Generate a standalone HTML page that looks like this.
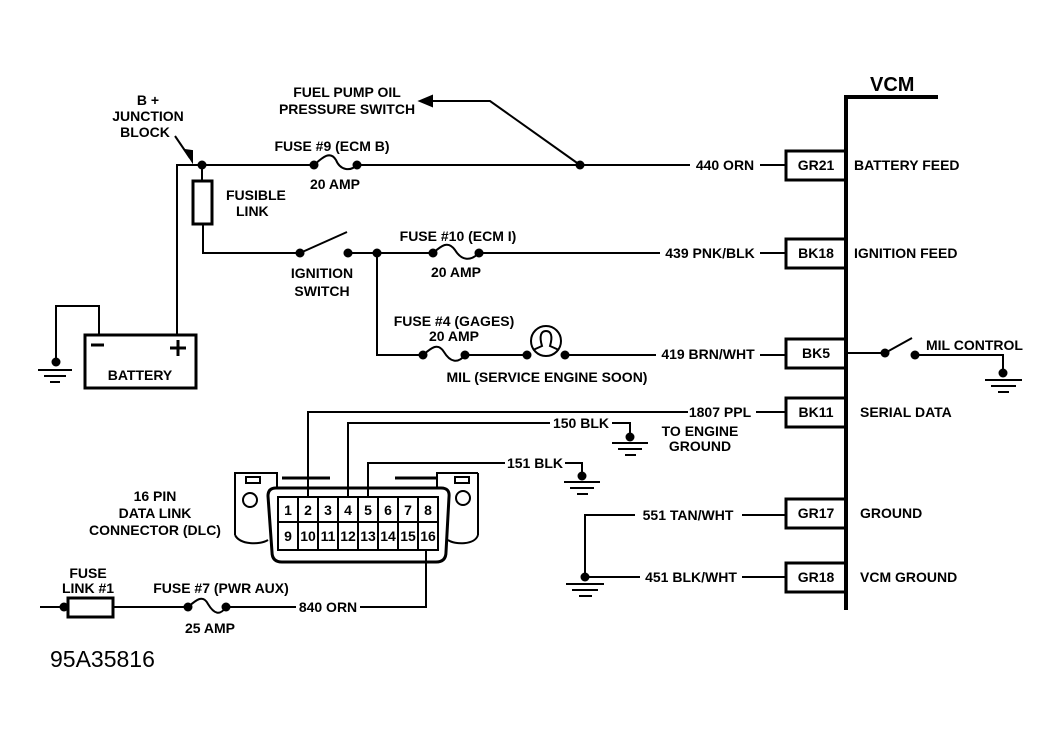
<!DOCTYPE html>
<html><head><meta charset="utf-8"><style>
html,body{margin:0;padding:0;background:#fff;}
svg{display:block;}
text{font-family:"Liberation Sans",sans-serif;font-weight:bold;font-size:14px;fill:#000;}
</style></head><body>
<svg width="1064" height="738" viewBox="0 0 1064 738" xmlns="http://www.w3.org/2000/svg">
<g stroke="#000" stroke-width="2" fill="none">
<path d="M846 610 V97 H938" stroke-width="4"/>
<rect x="786" y="151" width="60" height="29" stroke-width="3"/>
<rect x="786" y="239" width="60" height="29" stroke-width="3"/>
<rect x="786" y="339" width="60" height="29" stroke-width="3"/>
<rect x="786" y="398" width="60" height="29" stroke-width="3"/>
<rect x="786" y="499" width="60" height="29" stroke-width="3"/>
<rect x="786" y="563" width="60" height="29" stroke-width="3"/>
<path d="M177 335 V165 H314"/>
<path d="M357 165 H690"/><path d="M760 165 H786"/>
<path d="M314 165 C322 158 330 150 336 160 C340 170 350 172 357 165"/>
<path d="M580 165 L490 101 H430"/>
<path d="M420 101 L432 96 L432 106 Z" fill="#000"/>
<path d="M175 136 L190 158"/><path d="M192 161 L185 150 L192 151 Z" fill="#000"/>
<rect x="193" y="181" width="19" height="43" stroke-width="3"/>
<path d="M202 165 V181"/><path d="M203 224 V253 H300"/>
<path d="M300 253 L347 232"/>
<path d="M348 253 H433"/><path d="M479 253 H660"/><path d="M760 253 H786"/>
<path d="M433 253 C441 246 448 240 455 250 C461 260 470 262 479 253"/>
<path d="M377 253 V355 H423"/><path d="M465 355 H527"/><path d="M565 355 H656"/><path d="M760 355 H786"/>
<path d="M423 355 C431 348 438 342 444 352 C450 362 458 364 465 355"/>
<circle cx="546" cy="341" r="15"/>
<path d="M533 350 L542 346 C539 336 541 331 546 331 C551 331 553 336 550 346 L559 350"/>
<path d="M848 353 H885 L912 338"/><path d="M915 355 H1003 V373"/>
<path d="M985 380 H1022 M991 386 H1016 M998 392 H1009"/>
<rect x="85" y="335" width="111" height="53" stroke-width="3"/>
<path d="M99 335 V306 H56 V362"/>
<path d="M38 370 H72 M44 376 H66 M50 382 H60"/>
<path d="M91 345 H104" stroke-width="3"/>
<path d="M170 348 H186 M178 340 V356" stroke-width="3"/>
<path d="M308 498 V412 H688"/><path d="M756 412 H786"/>
<path d="M348 498 V423 H550"/><path d="M612 423 H630 V437"/>
<path d="M612 443 H648 M618 449 H642 M625 455 H636"/>
<path d="M368 498 V463 H505"/><path d="M565 463 H582 V476"/>
<path d="M564 482 H600 M570 488 H594 M577 494 H588"/>
<path d="M635 515 H585 V577 H640"/><path d="M742 515 H786"/><path d="M742 577 H786"/>
<path d="M566 584 H604 M572 590 H598 M579 596 H592"/>
<path d="M235 535 V473 H277 V488 M478 473 H437 V488"/>
<path d="M235 535 C240 545 260 545 268 540"/>
<path d="M478 535 C475 545 455 545 448 540"/>
<path d="M478 535 V473"/>
<path d="M268 496 Q268 488 276 488 H441 Q450 488 449 497 L446 552 Q446 562 436 562 H282 Q272 562 272 552 Z" stroke-width="3"/>
<rect x="246" y="477" width="14" height="6"/><rect x="455" y="477" width="14" height="6"/>
<circle cx="250" cy="500" r="7"/><circle cx="463" cy="498" r="7"/>
<path d="M282 478 H330 M395 478 H437" stroke-width="3"/>
<rect x="278" y="497" width="160" height="53" stroke-width="2"/>
<path d="M278 522 H438 M298 497 V550 M318 497 V550 M338 497 V550 M358 497 V550 M378 497 V550 M398 497 V550 M418 497 V550"/>
<path d="M426 550 V607 H360"/><path d="M296 607 H226"/><path d="M188 607 H114"/><path d="M68 607 H40"/>
<rect x="68" y="598" width="45" height="19" stroke-width="3"/>
<path d="M188 607 C196 600 203 594 208 604 C214 614 220 616 226 607"/>
</g>
<g fill="#000">
<circle cx="202" cy="165" r="4.5"/><circle cx="314" cy="165" r="4.5"/><circle cx="357" cy="165" r="4.5"/><circle cx="580" cy="165" r="4.5"/>
<circle cx="300" cy="253" r="4.5"/><circle cx="348" cy="253" r="4.5"/><circle cx="377" cy="253" r="4.5"/><circle cx="433" cy="253" r="4.5"/><circle cx="479" cy="253" r="4.5"/>
<circle cx="423" cy="355" r="4.5"/><circle cx="465" cy="355" r="4.5"/><circle cx="527" cy="355" r="4.5"/><circle cx="565" cy="355" r="4.5"/>
<circle cx="885" cy="353" r="4.5"/><circle cx="915" cy="355" r="4.5"/><circle cx="1003" cy="373" r="4.5"/>
<circle cx="56" cy="362" r="4.5"/><circle cx="630" cy="437" r="4.5"/><circle cx="582" cy="476" r="4.5"/><circle cx="585" cy="577" r="4.5"/>
<circle cx="64" cy="607" r="4.5"/><circle cx="188" cy="607" r="4.5"/><circle cx="226" cy="607" r="4.5"/>
</g>
<g>
<text x="870" y="91" style="font-size:20px">VCM</text>
<text x="148" y="105" text-anchor="middle">B +</text>
<text x="148" y="121" text-anchor="middle">JUNCTION</text>
<text x="145" y="137" text-anchor="middle">BLOCK</text>
<text x="347" y="97" text-anchor="middle">FUEL PUMP OIL</text>
<text x="347" y="114" text-anchor="middle">PRESSURE SWITCH</text>
<text x="332" y="151" text-anchor="middle">FUSE #9 (ECM B)</text>
<text x="335" y="189" text-anchor="middle">20 AMP</text>
<text x="226" y="200">FUSIBLE</text>
<text x="236" y="216">LINK</text>
<text x="322" y="278" text-anchor="middle">IGNITION</text>
<text x="322" y="296" text-anchor="middle">SWITCH</text>
<text x="458" y="241" text-anchor="middle">FUSE #10 (ECM I)</text>
<text x="456" y="277" text-anchor="middle">20 AMP</text>
<text x="454" y="326" text-anchor="middle">FUSE  #4 (GAGES)</text>
<text x="454" y="341" text-anchor="middle">20 AMP</text>
<text x="547" y="382" text-anchor="middle">MIL (SERVICE ENGINE SOON)</text>
<text x="725" y="170" text-anchor="middle">440 ORN</text>
<text x="710" y="258" text-anchor="middle">439 PNK/BLK</text>
<text x="708" y="359" text-anchor="middle">419 BRN/WHT</text>
<text x="720" y="417" text-anchor="middle">1807 PPL</text>
<text x="581" y="428" text-anchor="middle">150 BLK</text>
<text x="535" y="468" text-anchor="middle">151 BLK</text>
<text x="688" y="520" text-anchor="middle">551 TAN/WHT</text>
<text x="691" y="582" text-anchor="middle">451 BLK/WHT</text>
<text x="700" y="436" text-anchor="middle">TO ENGINE</text>
<text x="700" y="451" text-anchor="middle">GROUND</text>
<text x="816" y="170" text-anchor="middle">GR21</text>
<text x="816" y="258" text-anchor="middle">BK18</text>
<text x="816" y="358" text-anchor="middle">BK5</text>
<text x="816" y="417" text-anchor="middle">BK11</text>
<text x="816" y="518" text-anchor="middle">GR17</text>
<text x="816" y="582" text-anchor="middle">GR18</text>
<text x="854" y="170">BATTERY FEED</text>
<text x="854" y="258">IGNITION FEED</text>
<text x="860" y="417">SERIAL DATA</text>
<text x="860" y="518">GROUND</text>
<text x="860" y="582">VCM GROUND</text>
<text x="926" y="350">MIL CONTROL</text>
<text x="140" y="380" text-anchor="middle">BATTERY</text>
<text x="155" y="501" text-anchor="middle">16 PIN</text>
<text x="155" y="518" text-anchor="middle">DATA LINK</text>
<text x="155" y="535" text-anchor="middle">CONNECTOR (DLC)</text>
<text x="88" y="578" text-anchor="middle">FUSE</text>
<text x="88" y="593" text-anchor="middle">LINK #1</text>
<text x="221" y="593" text-anchor="middle">FUSE #7 (PWR AUX)</text>
<text x="210" y="633" text-anchor="middle">25 AMP</text>
<text x="328" y="612" text-anchor="middle">840 ORN</text>
<text x="50" y="667" style="font-weight:normal;font-size:23px">95A35816</text>
<g style="font-size:13px" text-anchor="middle">
<text x="288" y="515">1</text><text x="308" y="515">2</text><text x="328" y="515">3</text><text x="348" y="515">4</text><text x="368" y="515">5</text><text x="388" y="515">6</text><text x="408" y="515">7</text><text x="428" y="515">8</text>
<text x="288" y="541">9</text><text x="308" y="541">10</text><text x="328" y="541">11</text><text x="348" y="541">12</text><text x="368" y="541">13</text><text x="388" y="541">14</text><text x="408" y="541">15</text><text x="428" y="541">16</text>
</g>
</g>
</svg>
</body></html>
